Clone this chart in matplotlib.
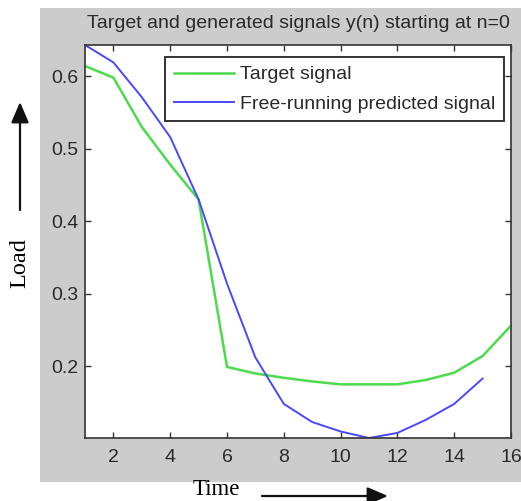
import numpy as np
import matplotlib.pyplot as plt
from matplotlib.patches import Rectangle

# data
time = np.arange(1, 17)
target = [0.614, 0.598, 0.530, 0.478, 0.430, 0.199, 0.190, 0.184, 0.179,
          0.175, 0.175, 0.175, 0.181, 0.191, 0.214, 0.256]
time_pred = np.arange(1, 16)
predicted = [0.643, 0.619, 0.571, 0.516, 0.430, 0.314, 0.212, 0.148, 0.123,
             0.110, 0.101, 0.108, 0.126, 0.148, 0.183]

xticks = [2, 4, 6, 8, 10, 12, 14, 16]
yticks = [0.2, 0.3, 0.4, 0.5, 0.6]

W, H = 521, 501
fig = plt.figure(figsize=(W / 100, H / 100), dpi=100)
fig.patch.set_facecolor('white')

# grey matlab figure area
fig.patches.append(Rectangle((40 / W, 1 - 482 / H), (W - 40) / W, (482 - 8) / H,
                             transform=fig.transFigure, facecolor='#cccccc',
                             edgecolor='none', zorder=-10))

ax = fig.add_axes([85 / W, 1 - 438 / H, (511 - 85) / W, (438 - 45) / H])
ax.plot(time, target, color='#4ddb4d', lw=1.8, label='Target signal')
ax.plot(time_pred, predicted, color='#4848ff', lw=1.4,
        label='Free-running predicted signal')

ax.set_xlim(1, 16)
ax.set_ylim(0.101, 0.643)
ax.set_xticks(xticks)
ax.set_yticks(yticks)
ax.set_yticklabels(['0.2', '0.3', '0.4', '0.5', '0.6'])
ax.tick_params(direction='in', top=True, right=True, length=4, width=1,
               colors='#333333', labelsize=14, labelcolor='#2a2a2a')
ax.tick_params(axis='x', pad=8)
ax.tick_params(axis='y', pad=5)
for lbl in ax.get_xticklabels() + ax.get_yticklabels():
    lbl.set_family('Liberation Sans')
for s in ax.spines.values():
    s.set_color('#333333')
    s.set_linewidth(1.2)

ax.set_title('Target and generated signals y(n) starting at n=0',
             fontsize=14, family='Liberation Sans', color='#2a2a2a', pad=12)

leg = ax.legend(loc='upper right', bbox_to_anchor=(0.9836, 0.9695),
                prop={'family': 'Liberation Sans', 'size': 14},
                fancybox=False, framealpha=1, edgecolor='#333333',
                borderaxespad=0, handlelength=3.1, handletextpad=0.3,
                labelspacing=0.6, borderpad=0.45)
leg.get_frame().set_linewidth(1.4)
for t in leg.get_texts():
    t.set_color('#2a2a2a')

# axis annotations outside the grey area
fig.text(20 / W, 1 - 263 / H, 'Load', rotation=90, ha='center', va='center',
         family='Liberation Serif', fontsize=17.5)
fig.text(216 / W, 1 - 495 / H, 'Time', ha='center', va='baseline',
         family='Liberation Serif', fontsize=16.5)
fig.add_artist(plt.Annotation('', xy=(20 / W, 1 - 102 / H), xytext=(20 / W, 1 - 210 / H),
                              xycoords='figure fraction', textcoords='figure fraction',
                              arrowprops=dict(arrowstyle='-|>,head_length=0.7,head_width=0.3',
                                              color='#111111', lw=1.6, mutation_scale=18,
                                              shrinkA=0, shrinkB=0)))
fig.add_artist(plt.Annotation('', xy=(388 / W, 1 - 496 / H), xytext=(262 / W, 1 - 496 / H),
                              xycoords='figure fraction', textcoords='figure fraction',
                              arrowprops=dict(arrowstyle='-|>,head_length=0.7,head_width=0.3',
                                              color='#111111', lw=1.6, mutation_scale=18,
                                              shrinkA=0, shrinkB=0)))

fig.savefig('out.png', dpi=100)
